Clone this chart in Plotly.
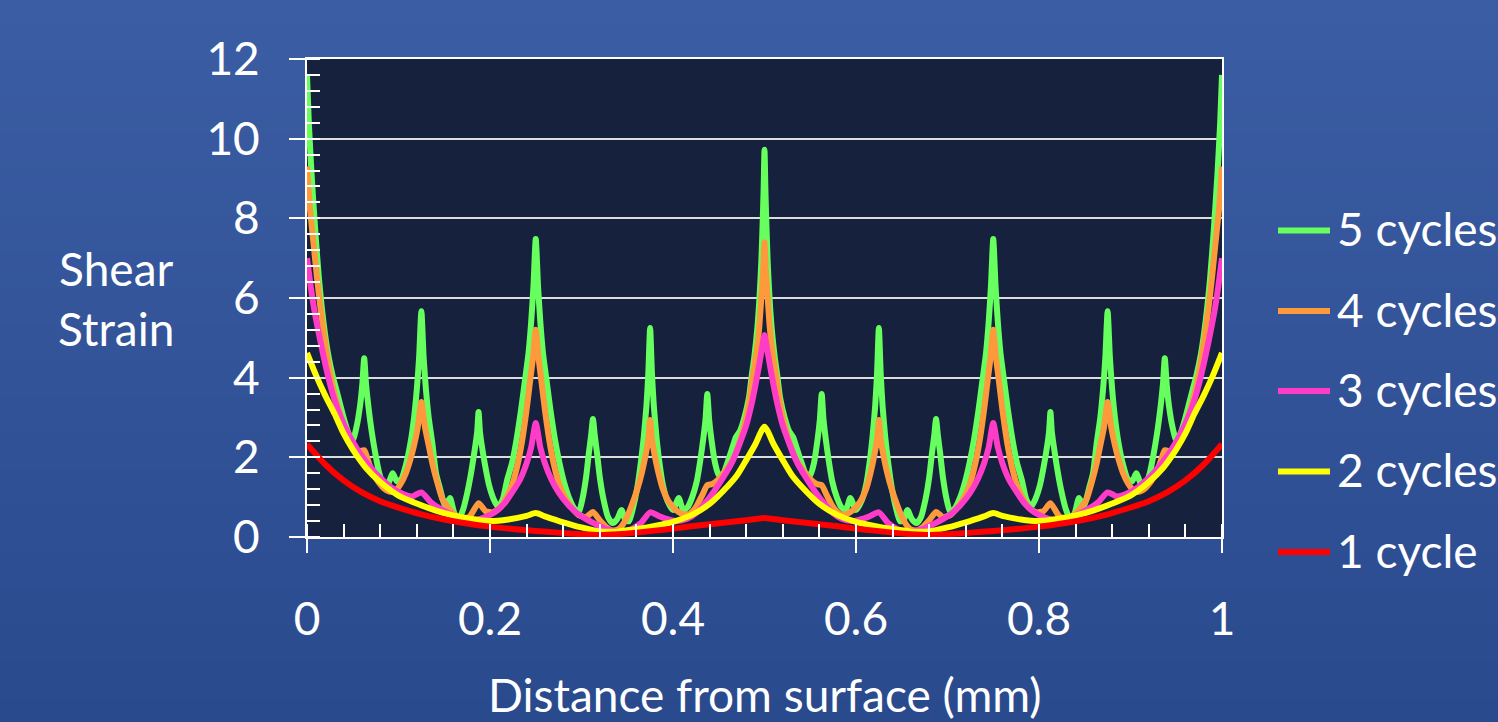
import plotly.graph_objects as go

# ---------------- data ----------------
x_5 = [0, 0.002, 0.005, 0.009, 0.013, 0.018, 0.023, 0.028, 0.03125, 0.036, 0.04, 0.045, 0.05, 0.054, 0.058,
       0.0605, 0.0625, 0.0645, 0.067, 0.071, 0.075, 0.079, 0.083, 0.087, 0.09375, 0.098, 0.103, 0.108, 0.113,
       0.117, 0.12, 0.1225, 0.125, 0.1275, 0.13, 0.133, 0.137, 0.141, 0.145, 0.151, 0.15625, 0.161, 0.166,
       0.171, 0.176, 0.18, 0.184, 0.186, 0.1875, 0.189, 0.191, 0.195, 0.199, 0.204, 0.209, 0.214, 0.21875,
       0.224, 0.229, 0.234, 0.238, 0.242, 0.245, 0.2475, 0.25, 0.2525, 0.255, 0.258, 0.262, 0.266, 0.271,
       0.276, 0.28125, 0.287, 0.292, 0.297, 0.301, 0.305, 0.308, 0.3105, 0.3125, 0.3145, 0.317, 0.32, 0.324,
       0.329, 0.334, 0.339, 0.34375, 0.348, 0.352, 0.356, 0.361, 0.365, 0.368, 0.371, 0.373, 0.375, 0.377,
       0.379, 0.382, 0.385, 0.389, 0.394, 0.4, 0.40625, 0.411, 0.416, 0.421, 0.426, 0.43, 0.433, 0.4355,
       0.4375, 0.4395, 0.442, 0.446, 0.45, 0.455, 0.46, 0.465, 0.46875, 0.473, 0.478, 0.483, 0.486, 0.489,
       0.492, 0.4945, 0.4965, 0.498, 0.499, 0.5,
       0.501, 0.502, 0.5035, 0.5055, 0.508, 0.511, 0.514, 0.517, 0.522, 0.527, 0.53125, 0.535, 0.54, 0.545,
       0.55, 0.554, 0.558, 0.5605, 0.5625, 0.5645, 0.567, 0.57, 0.574, 0.579, 0.584, 0.589, 0.59375, 0.6,
       0.606, 0.611, 0.615, 0.618, 0.621, 0.623, 0.625, 0.627, 0.629, 0.632, 0.635, 0.639, 0.644, 0.648,
       0.652, 0.65625, 0.661, 0.666, 0.671, 0.676, 0.68, 0.683, 0.6855, 0.6875, 0.6895, 0.692, 0.695, 0.699,
       0.703, 0.708, 0.713, 0.71875, 0.724, 0.729, 0.734, 0.738, 0.742, 0.745, 0.7475, 0.75, 0.7525, 0.755,
       0.758, 0.762, 0.766, 0.771, 0.776, 0.78125, 0.786, 0.791, 0.796, 0.801, 0.805, 0.809, 0.811, 0.8125,
       0.814, 0.816, 0.82, 0.824, 0.829, 0.834, 0.839, 0.84375, 0.849, 0.855, 0.859, 0.863, 0.867, 0.87,
       0.8725, 0.875, 0.8775, 0.88, 0.883, 0.887, 0.892, 0.897, 0.902, 0.90625, 0.913, 0.917, 0.921, 0.925,
       0.929, 0.933, 0.9355, 0.9375, 0.9395, 0.942, 0.946, 0.95, 0.955, 0.96, 0.964, 0.96875, 0.972, 0.977,
       0.982, 0.987, 0.991, 0.995, 0.998, 1.0]
y_5 = [11.6, 10.4, 9.1, 7.7, 6.5, 5.4, 4.6, 4.05, 3.77, 3.35, 3.0, 2.62, 2.43, 2.75, 3.3,
       3.85, 4.49, 3.85, 3.3, 2.6, 2.05, 1.6, 1.35, 1.25, 1.6, 1.4, 1.45, 1.8, 2.35,
       3.0, 3.7, 4.5, 5.67, 4.5, 3.7, 3.0, 2.35, 1.6, 1.25, 0.78, 0.98, 0.6, 0.45,
       0.72, 1.2, 1.7, 2.3, 2.65, 3.14, 2.65, 2.3, 1.75, 1.3, 0.95, 0.75, 0.95, 1.43,
       1.85, 2.45, 3.2, 3.9, 4.6, 5.4, 6.3, 7.48, 6.3, 5.4, 4.6, 3.9, 3.2, 2.45,
       1.85, 1.35, 0.95, 0.72, 0.62, 0.95, 1.5, 2.1, 2.55, 2.96, 2.55, 2.1, 1.5, 0.95,
       0.5, 0.35, 0.45, 0.68, 0.42, 0.4, 0.7, 1.25, 1.9, 2.5, 3.3, 4.1, 5.25, 4.1,
       3.3, 2.5, 1.9, 1.3, 0.9, 0.68, 0.98, 0.68, 0.75, 1.0, 1.4, 1.95, 2.45, 2.95,
       3.59, 2.95, 2.45, 1.85, 1.55, 1.6, 1.9, 2.25, 2.51, 2.65, 3.0, 3.5, 4.05, 4.55,
       5.2, 6.0, 6.9, 7.9, 8.7, 9.72,
       8.7, 7.9, 6.9, 6.0, 5.2, 4.55, 4.05, 3.5, 3.0, 2.65, 2.51, 2.25, 1.9, 1.6,
       1.55, 1.85, 2.45, 2.95, 3.59, 2.95, 2.45, 1.95, 1.4, 1.0, 0.75, 0.68, 0.98, 0.68,
       0.9, 1.3, 1.9, 2.5, 3.3, 4.1, 5.25, 4.1, 3.3, 2.5, 1.9, 1.25, 0.7, 0.4,
       0.42, 0.68, 0.45, 0.35, 0.5, 0.95, 1.5, 2.1, 2.55, 2.96, 2.55, 2.1, 1.5, 0.95,
       0.62, 0.72, 0.95, 1.35, 1.85, 2.45, 3.2, 3.9, 4.6, 5.4, 6.3, 7.48, 6.3, 5.4,
       4.6, 3.9, 3.2, 2.45, 1.85, 1.43, 0.95, 0.75, 0.95, 1.3, 1.75, 2.3, 2.65, 3.14,
       2.65, 2.3, 1.7, 1.2, 0.72, 0.45, 0.6, 0.98, 0.78, 1.25, 1.6, 2.35, 3.0, 3.7,
       4.5, 5.67, 4.5, 3.7, 3.0, 2.35, 1.8, 1.45, 1.4, 1.6, 1.25, 1.35, 1.6, 2.05,
       2.6, 3.3, 3.85, 4.49, 3.85, 3.3, 2.75, 2.43, 2.62, 3.0, 3.35, 3.77, 4.05, 4.6,
       5.4, 6.5, 7.7, 9.1, 10.4, 11.6]

x_4 = [0, 0.003, 0.007, 0.011, 0.015, 0.02, 0.025, 0.03, 0.036, 0.043, 0.05, 0.056, 0.0625, 0.067, 0.072,
       0.078, 0.084, 0.09, 0.096, 0.102, 0.108, 0.113, 0.117, 0.121, 0.125, 0.129, 0.133, 0.137, 0.142,
       0.148, 0.155, 0.163, 0.17, 0.178, 0.1875, 0.195, 0.203, 0.21, 0.217, 0.224, 0.23, 0.235, 0.24,
       0.244, 0.247, 0.25, 0.253, 0.256, 0.26, 0.265, 0.27, 0.276, 0.283, 0.29, 0.297, 0.305, 0.3125,
       0.32, 0.327, 0.334, 0.341, 0.348, 0.355, 0.361, 0.366, 0.37, 0.373, 0.375, 0.377, 0.38, 0.384,
       0.389, 0.395, 0.402, 0.41, 0.418, 0.425, 0.432, 0.4375, 0.443, 0.45, 0.458, 0.466, 0.473, 0.479,
       0.483, 0.487, 0.491, 0.494, 0.4965, 0.4985, 0.5,
       0.5015, 0.5035, 0.506, 0.509, 0.513, 0.517, 0.521, 0.527, 0.534, 0.542, 0.55, 0.557, 0.5625, 0.568,
       0.575, 0.582, 0.59, 0.598, 0.605, 0.611, 0.616, 0.62, 0.623, 0.625, 0.627, 0.63, 0.634, 0.639,
       0.645, 0.652, 0.659, 0.666, 0.673, 0.68, 0.6875, 0.695, 0.703, 0.71, 0.717, 0.724, 0.73, 0.735,
       0.74, 0.744, 0.747, 0.75, 0.753, 0.756, 0.76, 0.765, 0.77, 0.776, 0.783, 0.79, 0.797, 0.805,
       0.8125, 0.822, 0.83, 0.837, 0.845, 0.852, 0.858, 0.863, 0.867, 0.871, 0.875, 0.879, 0.883, 0.887,
       0.892, 0.898, 0.904, 0.91, 0.916, 0.922, 0.928, 0.933, 0.9375, 0.944, 0.95, 0.957, 0.964, 0.97,
       0.975, 0.98, 0.985, 0.989, 0.993, 0.997, 1.0]
y_4 = [9.3, 8.3, 7.4, 6.5, 5.7, 4.85, 4.15, 3.6, 3.1, 2.65, 2.3, 2.15, 2.18, 1.9, 1.6,
       1.38, 1.22, 1.14, 1.15, 1.32, 1.6, 1.95, 2.3, 2.75, 3.39, 2.75, 2.3, 1.85, 1.4,
       0.95, 0.72, 0.52, 0.46, 0.52, 0.85, 0.65, 0.62, 0.72, 0.95, 1.3, 1.8, 2.4, 3.2,
       3.95, 4.5, 5.2, 4.5, 3.95, 3.2, 2.4, 1.8, 1.3, 0.95, 0.72, 0.55, 0.5, 0.63,
       0.42, 0.25, 0.16, 0.2, 0.42, 0.8, 1.2, 1.62, 2.05, 2.45, 2.94, 2.45, 2.05, 1.62,
       1.2, 0.9, 0.7, 0.58, 0.58, 0.75, 1.05, 1.3, 1.33, 1.45, 1.68, 1.97, 2.4, 2.9,
       3.35, 4.0, 4.6, 5.2, 6.0, 6.7, 7.4,
       6.7, 6.0, 5.2, 4.6, 4.0, 3.35, 2.9, 2.4, 1.97, 1.68, 1.45, 1.33, 1.3, 1.05,
       0.75, 0.58, 0.58, 0.7, 0.9, 1.2, 1.62, 2.05, 2.45, 2.94, 2.45, 2.05, 1.62, 1.2,
       0.8, 0.42, 0.2, 0.16, 0.25, 0.42, 0.63, 0.5, 0.55, 0.72, 0.95, 1.3, 1.8, 2.4,
       3.2, 3.95, 4.5, 5.2, 4.5, 3.95, 3.2, 2.4, 1.8, 1.3, 0.95, 0.72, 0.62, 0.65,
       0.85, 0.52, 0.46, 0.52, 0.72, 0.95, 1.4, 1.85, 2.3, 2.75, 3.39, 2.75, 2.3, 1.95,
       1.6, 1.32, 1.15, 1.14, 1.22, 1.38, 1.6, 1.9, 2.18, 2.15, 2.3, 2.65, 3.1, 3.6,
       4.15, 4.85, 5.7, 6.5, 7.4, 8.3, 9.3]

x_3 = [0, 0.004, 0.008, 0.013, 0.018, 0.024, 0.03, 0.037, 0.045, 0.055, 0.065, 0.075, 0.085, 0.095, 0.105,
       0.115, 0.125, 0.135, 0.145, 0.155, 0.165, 0.175, 0.185, 0.195, 0.205, 0.215, 0.225, 0.233, 0.24,
       0.245, 0.25, 0.255, 0.26, 0.267, 0.275, 0.285, 0.295, 0.305, 0.315, 0.325, 0.335, 0.345, 0.355,
       0.365, 0.375, 0.385, 0.395, 0.405, 0.415, 0.425, 0.435, 0.445, 0.455, 0.465, 0.473, 0.48, 0.486,
       0.49, 0.494, 0.497, 0.5,
       0.503, 0.506, 0.51, 0.514, 0.52, 0.527, 0.535, 0.545, 0.555, 0.565, 0.575, 0.585, 0.595, 0.605,
       0.615, 0.625, 0.635, 0.645, 0.655, 0.665, 0.675, 0.685, 0.695, 0.705, 0.715, 0.725, 0.733, 0.74,
       0.745, 0.75, 0.755, 0.76, 0.767, 0.775, 0.785, 0.795, 0.805, 0.815, 0.825, 0.835, 0.845, 0.855,
       0.865, 0.875, 0.885, 0.895, 0.905, 0.915, 0.925, 0.935, 0.945, 0.955, 0.963, 0.97, 0.976, 0.982,
       0.987, 0.992, 0.996, 1.0]
y_3 = [7.0, 6.3, 5.7, 5.1, 4.55, 3.95, 3.45, 3.0, 2.6, 2.2, 1.88, 1.6, 1.38, 1.2, 1.08,
       1.02, 1.12, 0.88, 0.72, 0.6, 0.5, 0.44, 0.43, 0.5, 0.62, 0.82, 1.15, 1.45, 1.85,
       2.25, 2.86, 2.25, 1.85, 1.45, 1.12, 0.82, 0.6, 0.45, 0.33, 0.22, 0.16, 0.14, 0.2,
       0.35, 0.62, 0.52, 0.44, 0.4, 0.45, 0.6, 0.85, 1.15, 1.5, 1.9, 2.35, 2.8, 3.35,
       3.8, 4.3, 4.7, 5.07,
       4.7, 4.3, 3.8, 3.35, 2.8, 2.35, 1.9, 1.5, 1.15, 0.85, 0.6, 0.45, 0.4, 0.44,
       0.52, 0.62, 0.35, 0.2, 0.14, 0.16, 0.22, 0.33, 0.45, 0.6, 0.82, 1.12, 1.45, 1.85,
       2.25, 2.86, 2.25, 1.85, 1.45, 1.15, 0.82, 0.62, 0.5, 0.43, 0.44, 0.5, 0.6, 0.72,
       0.88, 1.12, 1.02, 1.08, 1.2, 1.38, 1.6, 1.88, 2.2, 2.6, 3.0, 3.45, 3.95, 4.55,
       5.1, 5.7, 6.3, 7.0]

x_2 = [0, 0.01, 0.02, 0.03, 0.04, 0.05, 0.065, 0.08, 0.1, 0.12, 0.14, 0.16, 0.18, 0.2, 0.22, 0.24, 0.25,
       0.26, 0.28, 0.3, 0.32, 0.34, 0.36, 0.38, 0.4, 0.42, 0.44, 0.46, 0.47, 0.48, 0.49, 0.5,
       0.51, 0.52, 0.53, 0.54, 0.56, 0.58, 0.6, 0.62, 0.64, 0.66, 0.68, 0.7, 0.72, 0.74, 0.75, 0.76,
       0.78, 0.8, 0.82, 0.84, 0.86, 0.88, 0.9, 0.92, 0.935, 0.95, 0.96, 0.97, 0.98, 0.99, 1.0]
y_2 = [4.62, 4.05, 3.55, 3.1, 2.6, 2.2, 1.72, 1.38, 1.04, 0.84, 0.67, 0.54, 0.45, 0.4, 0.44, 0.53, 0.6,
       0.52, 0.37, 0.24, 0.14, 0.14, 0.2, 0.28, 0.38, 0.55, 0.83, 1.28, 1.55, 1.93, 2.33, 2.77,
       2.33, 1.93, 1.55, 1.28, 0.83, 0.55, 0.38, 0.28, 0.2, 0.14, 0.14, 0.24, 0.37, 0.52, 0.6, 0.53,
       0.44, 0.4, 0.45, 0.54, 0.67, 0.84, 1.04, 1.38, 1.72, 2.2, 2.6, 3.1, 3.55, 4.05, 4.62]

x_1 = [0, 0.02, 0.04, 0.06, 0.08, 0.1, 0.125, 0.15, 0.175, 0.2, 0.225, 0.25, 0.275, 0.3, 0.32, 0.34, 0.36,
       0.38, 0.4, 0.42, 0.44, 0.46, 0.48, 0.5,
       0.52, 0.54, 0.56, 0.58, 0.6, 0.62, 0.64, 0.66, 0.68, 0.7, 0.725, 0.75, 0.775, 0.8, 0.825, 0.85,
       0.875, 0.9, 0.92, 0.94, 0.96, 0.98, 1.0]
y_1 = [2.33, 1.82, 1.42, 1.12, 0.9, 0.74, 0.57, 0.44, 0.34, 0.26, 0.2, 0.15, 0.11, 0.07, 0.05, 0.07, 0.11,
       0.16, 0.21, 0.27, 0.32, 0.37, 0.42, 0.48,
       0.42, 0.37, 0.32, 0.27, 0.21, 0.16, 0.11, 0.07, 0.05, 0.07, 0.11, 0.15, 0.2, 0.26, 0.34, 0.44,
       0.57, 0.74, 0.9, 1.12, 1.42, 1.82, 2.33]

series_names = ["5 cycles", "4 cycles", "3 cycles", "2 cycles", "1 cycle"]
series_x = [x_5, x_4, x_3, x_2, x_1]
series_y = [y_5, y_4, y_3, y_2, y_1]
series_colors = ["#66ff5e", "#ff9a3c", "#ff3cc8", "#ffff00", "#ff0000"]

x_ticks = [0, 0.2, 0.4, 0.6, 0.8, 1]
x_tick_labels = ["0", "0.2", "0.4", "0.6", "0.8", "1"]
y_ticks = [0, 2, 4, 6, 8, 10, 12]
y_tick_labels = ["0", "2", "4", "6", "8", "10", "12"]

# ---------------- figure ----------------
W, H = 1498, 722
ML, MR, MT, MB = 307, 276, 59, 185
PW, PH = W - ML - MR, H - MT - MB
FONT = "Lato, 'Open Sans', sans-serif"
FS = 46


def px_x(p):
    return (p - ML) / PW


def px_y(p):
    return (H - MB - p) / PH


fig = go.Figure()
for name, xs, ys, col in zip(series_names, series_x, series_y, series_colors):
    fig.add_trace(go.Scatter(x=xs, y=ys, mode="lines", name=name,
                             line=dict(color=col, width=6, shape="spline", smoothing=0.6),
                             showlegend=False))

shapes = []
# vertical background gradient
top_c = (59, 93, 163)
bot_c = (42, 74, 142)
N = 60
y0p, y1p = px_y(H), px_y(0)
for i in range(N):
    t = i / (N - 1)
    c = tuple(round(bot_c[k] + (top_c[k] - bot_c[k]) * t) for k in range(3))
    ya = y0p + (y1p - y0p) * i / N
    yb = y0p + (y1p - y0p) * (i + 1) / N + 0.002
    shapes.append(dict(type="rect", xref="paper", yref="paper", x0=px_x(-5), x1=px_x(W + 5),
                       y0=ya, y1=yb, fillcolor="rgb(%d,%d,%d)" % c, line=dict(width=0), layer="below"))
# plot area
shapes.append(dict(type="rect", xref="paper", yref="paper", x0=0, x1=1, y0=0, y1=1,
                   fillcolor="#16213e", line=dict(width=0), layer="below"))

# legend drawn by hand
leg_y = [230.5, 311, 391, 471.5, 552]
annotations = []
for name, col, ly in zip(series_names, series_colors, leg_y):
    shapes.append(dict(type="line", xref="paper", yref="paper", x0=px_x(1278), x1=px_x(1330),
                       y0=px_y(ly), y1=px_y(ly), line=dict(color=col, width=6)))
    annotations.append(dict(text=name, xref="paper", yref="paper", x=px_x(1335), y=px_y(ly - 2),
                            xanchor="left", yanchor="middle", showarrow=False,
                            font=dict(family=FONT, size=FS, color="white")))

annotations.append(dict(text="Shear<br>Strain", xref="paper", yref="paper", x=px_x(116), y=px_y(298),
                        xanchor="center", yanchor="middle", align="center", showarrow=False,
                        font=dict(family=FONT, size=FS, color="white")))
annotations.append(dict(text="Distance from surface (mm)", xref="paper", yref="paper", x=px_x(765),
                        y=px_y(694), xanchor="center", yanchor="middle", showarrow=False,
                        font=dict(family=FONT, size=FS, color="white")))

fig.update_layout(
    width=W, height=H,
    margin=dict(l=ML, r=MR, t=MT, b=MB, autoexpand=False),
    paper_bgcolor="#33549a",
    plot_bgcolor="#16213e",
    showlegend=False,
    shapes=shapes,
    annotations=annotations,
    font=dict(family=FONT, size=FS, color="white"),
)
fig.update_xaxes(
    range=[0, 1], tickmode="array", tickvals=x_ticks, ticktext=x_tick_labels,
    ticks="outside", ticklen=14, tickwidth=2, tickcolor="white",
    showline=True, linecolor="white", linewidth=2, mirror=True,
    showgrid=False, zeroline=False,
    minor=dict(dtick=0.04, tick0=0, ticks="inside", ticklen=13, tickwidth=2, tickcolor="white", showgrid=False),
    tickfont=dict(family=FONT, size=FS, color="white"),
    ticklabelstandoff=27,
)
fig.update_yaxes(
    range=[0, 12], tickmode="array", tickvals=y_ticks, ticktext=y_tick_labels,
    ticks="outside", ticklen=16, tickwidth=2, tickcolor="white",
    showline=True, linecolor="white", linewidth=2, mirror=True,
    showgrid=True, gridcolor="#dcdcdc", gridwidth=2, zeroline=False,
    minor=dict(dtick=0.4, tick0=0, ticks="inside", ticklen=13, tickwidth=2, tickcolor="white", showgrid=False),
    tickfont=dict(family=FONT, size=FS, color="white"),
    ticklabelstandoff=20,
)

fig.write_html("out.html")
